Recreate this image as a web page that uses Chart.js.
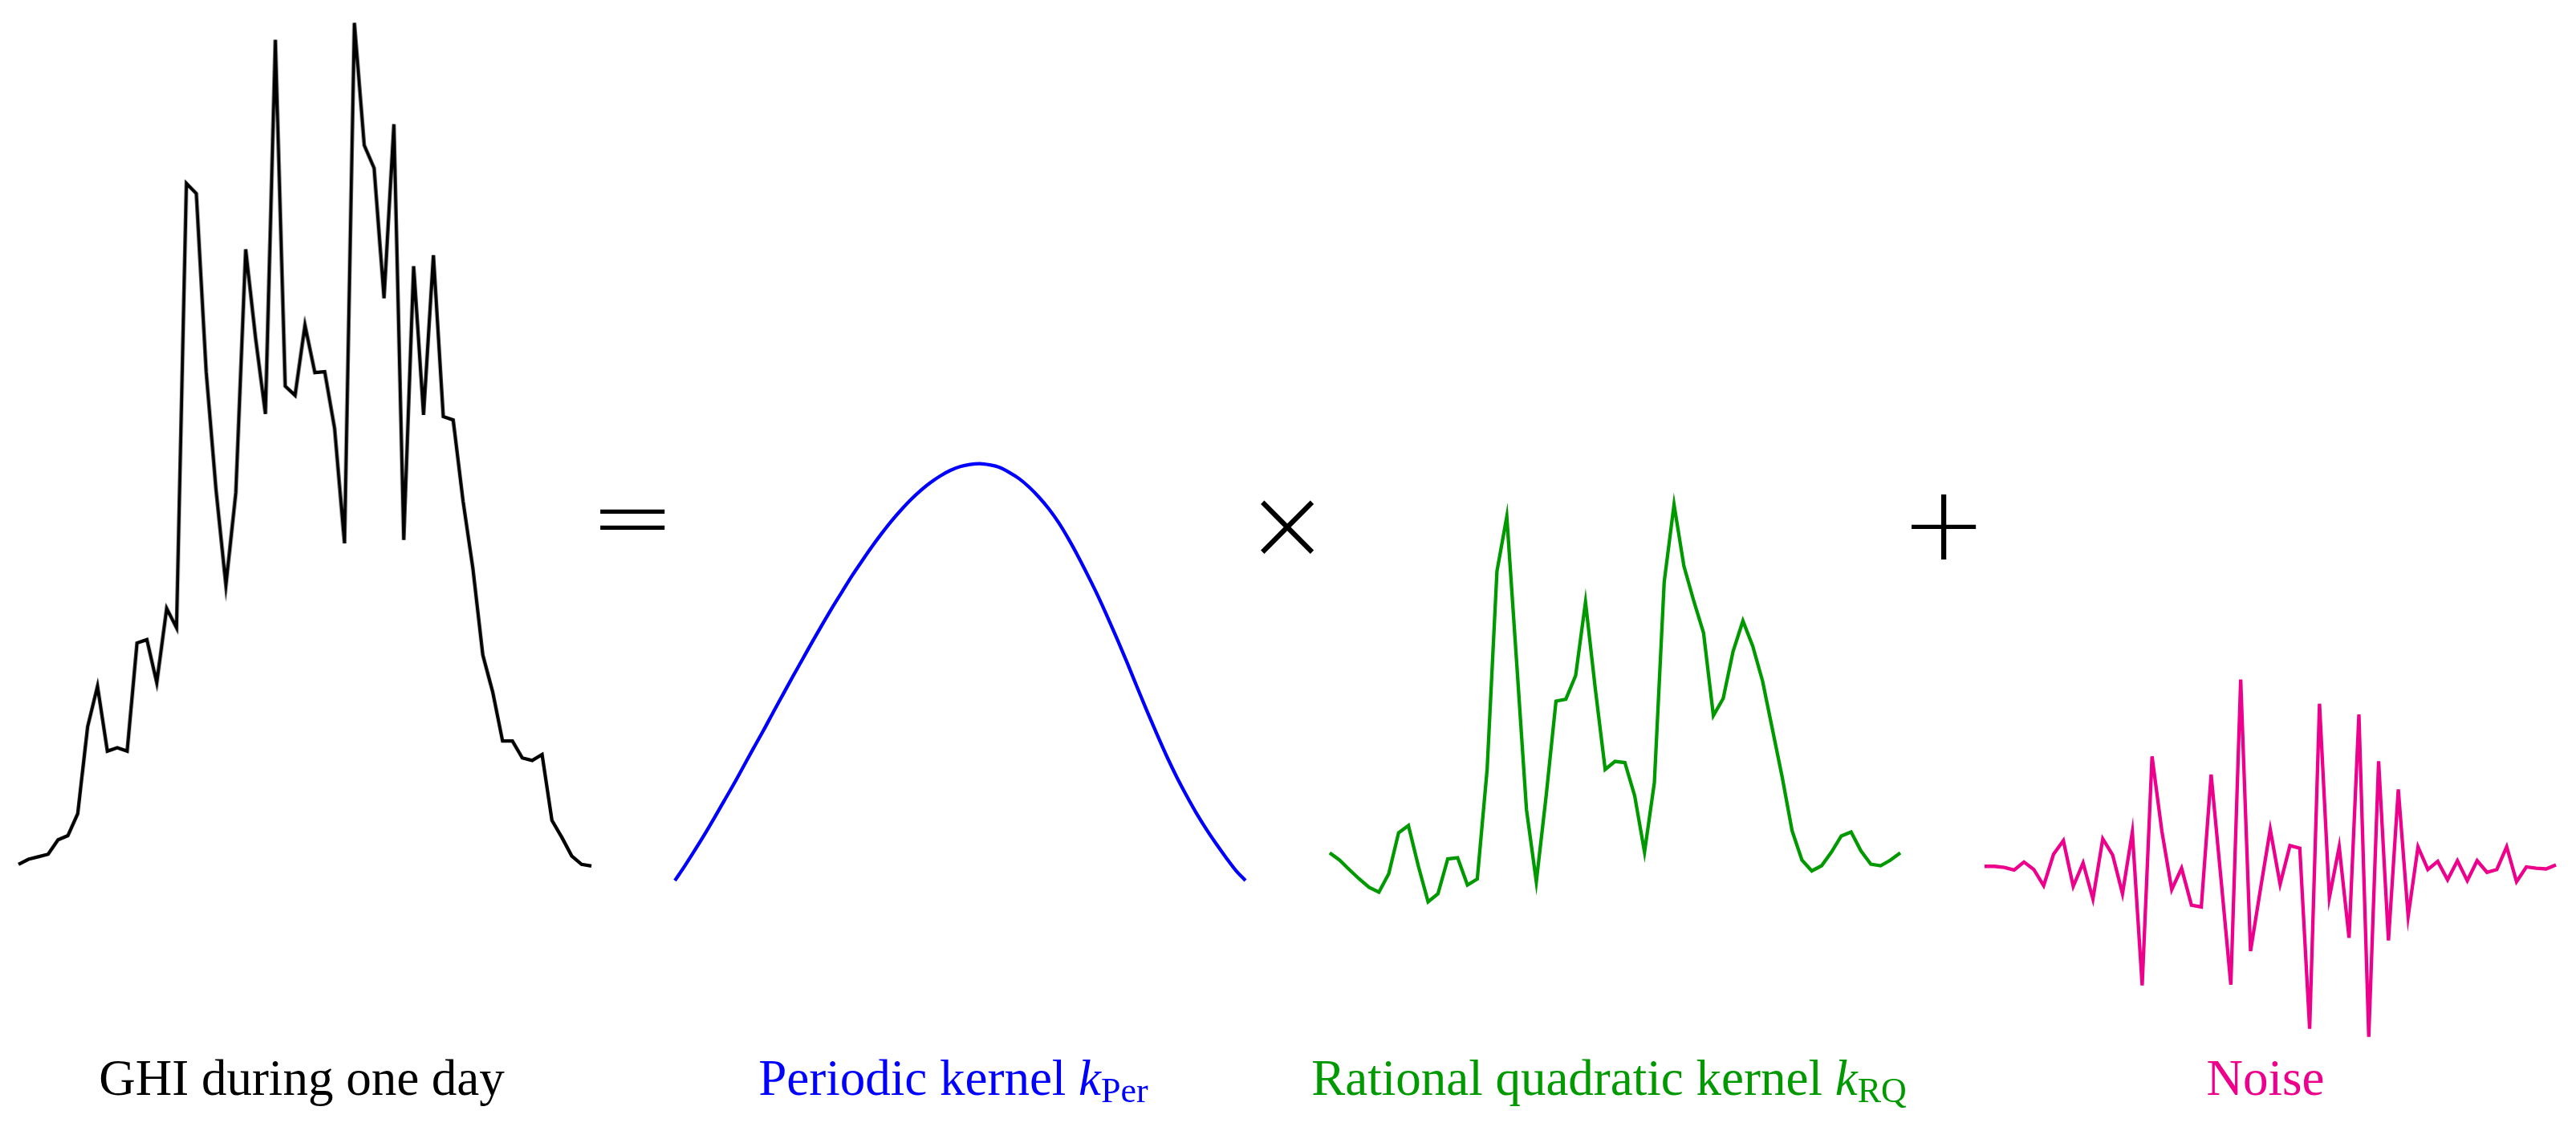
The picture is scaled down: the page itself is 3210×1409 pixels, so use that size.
<!DOCTYPE html>
<html>
<head>
<meta charset="utf-8">
<script src="https://cdn.jsdelivr.net/npm/chart.js@4.4.1/dist/chart.umd.min.js"></script>
<style>
  html, body { margin: 0; padding: 0; background: #ffffff; }
  #stage { position: relative; width: 3210px; height: 1409px; overflow: hidden; background: #ffffff; }
  .panel { position: absolute; }
  .label {
    position: absolute; top: 1312px; width: 900px; text-align: center;
    font-family: "Liberation Serif", "DejaVu Serif", serif; font-size: 63px; line-height: 1; white-space: nowrap;
  }
  .label i { font-style: italic; }
  .label sub { font-size: 44px; vertical-align: baseline; position: relative; top: 9px; }
  .op {
    position: absolute; width: 240px; height: 240px; display: flex; align-items: center; justify-content: center;
    font-family: "DejaVu Sans", sans-serif; font-weight: 200; line-height: 1; color: #000;
  }
</style>
</head>
<body>
<div id="stage">
  <div class="panel" id="p1"><canvas id="c1"></canvas></div>
  <div class="panel" id="p2"><canvas id="c2"></canvas></div>
  <div class="panel" id="p3"><canvas id="c3"></canvas></div>
  <div class="panel" id="p4"><canvas id="c4"></canvas></div>

  <div class="op" style="left:668px; top:524px; font-size:128px;">=</div>
  <div class="op" style="left:1484px; top:533px; font-size:128px;">×</div>
  <div class="op" style="left:2302px; top:533px; font-size:128px;">+</div>

  <div class="label" style="left:-74px; color:#000000;">GHI during one day</div>
  <div class="label" style="left:738px; color:#0000ff;">Periodic kernel <i>k</i><sub>Per</sub></div>
  <div class="label" style="left:1555px; color:#009900;">Rational quadratic kernel <i>k</i><sub>RQ</sub></div>
  <div class="label" style="left:2373px; color:#ec008c;">Noise</div>
</div>

<script>
// ---- data ----
// 59 samples over one day (15-minute steps)
const timeLabels = Array.from({length: 59}, (_, i) => {
  const m = 330 + i * 15;
  return String(Math.floor(m / 60)).padStart(2, '0') + ':' + String(m % 60).padStart(2, '0');
});

const ghiValues = [7,13,16,19,36,41,67,170,218,141,145,141,269,273,222,310,287,813,801,590,
  450,337,447,735,630,540,983,573,562,645,589,590,523,387,1003,858,831,677,883,391,
  715,539,728,537,533,437,357,255,211,153,153,133,130,137,59,39,17,7,5];

const periodicValues = [0,3.5,7.2,11.0,15.0,19.1,23.2,27.5,31.8,36.0,40.4,44.7,49.0,53.2,57.4,61.5,65.5,69.3,73.1,76.6,
  80.0,83.2,86.2,88.9,91.4,93.6,95.5,97.1,98.4,99.3,99.8,100,99.7,99.1,97.9,96.4,94.4,92.0,89.2,85.9,
  82.0,77.7,73.1,68.3,63.1,57.7,52.1,46.3,40.6,35.1,29.8,24.9,20.4,16.2,12.4,8.9,5.6,2.5,0];

const rqValues = [14.5,12.7,10.3,8.0,5.9,4.7,9.3,19.5,21.3,11.3,2.3,4.3,13.0,13.3,6.5,8.0,35.3,84.7,98.3,62.0,
  25.3,7.3,28.7,52.3,52.8,58.7,77.0,55.3,35.3,37.3,37.0,28.7,14.7,32.0,82.0,101.3,86.0,77.3,69.3,48.7,
  53.0,64.7,72.3,66.0,57.3,45.3,33.3,20.0,12.7,10.0,11.3,14.7,18.7,19.7,15.0,11.7,11.3,12.7,14.5];

const noiseValues = [0.3,0.3,-0.3,-1.7,2.6,-1.4,-10.0,6.7,14.0,-10.4,2.1,-17.1,15.0,6.4,-14.3,18.6,-63.3,59.0,19.0,-12.1,
  -0.7,-20.4,-21.4,49.3,-6.4,-62.9,100.0,-45.0,-12.1,20.0,-9.3,11.4,10.0,-86.4,87.1,-16.4,10.7,-37.9,81.4,-90.7,
  56.4,-39.3,41.4,-26.4,10.7,-1.4,2.9,-6.9,3.3,-7.4,3.3,-2.9,-1.4,10.7,-7.9,0,-0.7,-1.1,1.0];

// ---- panels ----
const PAD = 10;
function makePanel(id, canvasId, box, values, color, yMin, yMax, smooth) {
  const host = document.getElementById(id);
  host.style.left = box.left + 'px';
  host.style.top = box.top + 'px';
  host.style.width = box.width + 'px';
  host.style.height = box.height + 'px';
  const cv = document.getElementById(canvasId);
  cv.width = box.width; cv.height = box.height;
  cv.style.width = box.width + 'px'; cv.style.height = box.height + 'px';
  return new Chart(cv, {
    type: 'line',
    data: {
      labels: timeLabels,
      datasets: [{
        data: values,
        borderColor: color,
        borderWidth: 4.3,
        pointRadius: 0,
        fill: false,
        tension: smooth ? 0.4 : 0,
        cubicInterpolationMode: smooth ? 'monotone' : 'default',
        borderJoinStyle: 'miter',
        borderCapStyle: 'butt'
      }]
    },
    options: {
      responsive: false,
      animation: false,
      events: [],
      layout: { padding: PAD },
      plugins: { legend: { display: false }, tooltip: { enabled: false } },
      scales: {
        x: { display: false, offset: false },
        y: { display: false, min: yMin, max: yMax }
      }
    }
  });
}

makePanel('p1', 'c1', {left: 13.3, top: 0, width: 733.5, height: 1104}, ghiValues, '#000000', -9.3, 1020.5, false);
makePanel('p2', 'c2', {left: 830.5, top: 550, width: 731.1, height: 570}, periodicValues, '#0000ff', -2.5, 103.4, true);
makePanel('p3', 'c3', {left: 1646.7, top: 590, width: 731.7, height: 560}, rqValues, '#009900', -1, 107, false);
makePanel('p4', 'c4', {left: 2463, top: 810, width: 732, height: 500}, noiseValues, '#ec008c', -94.3, 111.4, false);
</script>
</body>
</html>
